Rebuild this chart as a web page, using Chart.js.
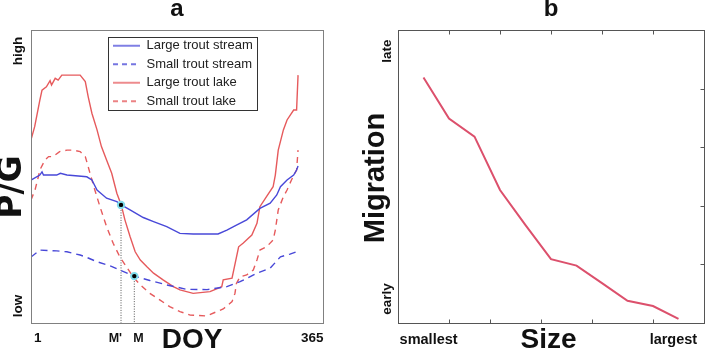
<!DOCTYPE html>
<html>
<head>
<meta charset="utf-8">
<title>P/G and migration</title>
<script src="https://cdn.jsdelivr.net/npm/chart.js@4.4.1/dist/chart.umd.min.js"></script>
<style>
  html, body { margin: 0; padding: 0; background: #fff; }
  #wrap { position: relative; width: 705px; height: 352px; }
  .panel { position: absolute; top: 0; }
  #pa { left: 0; }
  #pb { left: 353px; }
</style>
</head>
<body>
<div id="wrap">
  <div class="panel" id="pa"><canvas id="chartA" width="353" height="352"></canvas></div>
  <div class="panel" id="pb"><canvas id="chartB" width="352" height="352"></canvas></div>
</div>
<script>
// ---- panel a : P/G over the year (DOY) ----
const seriesNames = ['Large trout stream', 'Small trout stream', 'Large trout lake', 'Small trout lake'];

const doyLargeStream = [1, 13, 16, 18, 36, 41, 50, 77, 84, 91, 104, 118, 124, 136, 154, 168, 186, 204, 222, 256,
  268, 281, 295, 313, 327, 336, 341, 350, 359, 363, 365];
const pgLargeStream = [48.8, 50.5, 51.6, 50.5, 50.5, 51.1, 50.5, 49.9, 48.8, 45.4, 42.6, 41.4, 40.3, 38.6, 36, 34.6, 32.9, 30.6, 30.4, 30.4,
  31.7, 33.4, 35.2, 39.1, 40.9, 43.7, 46.5, 48.8, 50.5, 52.2, 53.6];

const doySmallStream = [1, 13, 36, 50, 68, 77, 91, 109, 122, 142, 163, 186, 213, 241, 268, 286, 309, 327, 341, 354, 363];
const pgSmallStream = [22.5, 24.9, 24.6, 24.3, 23.2, 22.4, 20.9, 19.5, 18.1, 16, 14.5, 13, 11.5, 11.4, 12.4, 14.1, 17, 18.7, 22.6, 23.5, 24.3];

const doyLargeLake = [1, 6, 13, 16, 22, 27, 29, 34, 38, 43, 68, 75, 79, 84, 91, 97, 104, 111, 118, 124,
  129, 136, 143, 150, 159, 168, 181, 195, 204, 222, 245, 261, 263, 275, 284, 290, 302, 309, 313, 322,
  331, 334, 338, 345, 350, 359, 363, 365];
const pgLargeLake = [62.5, 67, 76, 79.5, 80.6, 82.7, 81.2, 83.5, 82.9, 84.6, 84.6, 82.4, 77.2, 71.6, 65.9, 60.2, 55.6, 51.1, 44.3, 40.3,
  35.2, 29.5, 24.3, 21.5, 19.2, 17, 14.7, 12.4, 11.3, 10.1, 10.7, 12.4, 14.7, 15.3, 26, 27.2, 30, 34, 39.7, 43.1,
  46.5, 50.5, 59, 65.9, 69.3, 72.7, 72.7, 84.6];

const doySmallLake = [1, 6.5, 11, 13, 20, 25, 31, 40, 50, 59, 68, 75, 79, 81, 88, 95, 104, 113, 122, 131,
  140, 150, 163, 177, 190, 204, 218, 240, 263, 275, 279, 281, 286, 295, 304, 309, 313, 322, 331, 334,
  338, 345, 350, 356, 363, 365];
const pgSmallLake = [42, 45.4, 49.9, 52.2, 55.6, 56.8, 56.8, 58.5, 59, 59, 58.5, 56.8, 53.3, 51.5, 45.4, 39.7, 32.9, 27.2, 22.6, 19.2,
  15.8, 13, 10.1, 7.8, 5.6, 3.9, 2.7, 2.4, 4.8, 7.3, 10.1, 13.5, 15.8, 16.4, 18.1, 21.5, 24.9, 26, 28.3, 31.7,
  38.6, 43.1, 45.4, 48.8, 52.2, 59];

// migration points M' (large trout) and M (small trout)
const markerLabels = ["M'", "M"];
const markerDoy = [123.7, 141.8];
const markerPG = [40.3, 16.0];

const doyTicks = [1, 365];
const doyTickLabels = ['1', '365'];
const pgTicks = [92.8, 5.8];
const pgTickLabels = ['high', 'low'];

// ---- panel b : migration timing vs size ----
const sizeSteps = [0.5, 1, 1.5, 2, 2.5, 3, 3.5, 4, 4.5, 5, 5.5];
const migration = [4.19, 3.49, 3.18, 2.27, 1.67, 1.09, 0.98, 0.68, 0.38, 0.29, 0.07];

const sizeTicks = [0.6, 5.4];
const sizeTickLabels = ['smallest', 'largest'];
const migTicks = [4.64, 0.41];
const migTickLabels = ['late', 'early'];
const topTicks = [1, 2, 3, 4, 5];
const bottomTicks = [1, 1.8, 2.8, 3.8, 5];
const rightTicks = [1, 2, 3, 4];

Chart.defaults.font.family = '"Liberation Sans", Arial, sans-serif';
Chart.defaults.animation = false;

const BLUE = '#4848d8';
const RED = '#e65a5c';

function xy(xs, ys) {
	return xs.map((v, i) => ({ x: v, y: ys[i] }));
}

// small line sample used as the legend symbol (keeps the dash pattern)
function legendSample(color, dash) {
	const c = document.createElement('canvas');
	c.width = 27;
	c.height = 4;
	const g = c.getContext('2d');
	g.strokeStyle = color;
	g.lineWidth = 1.4;
	g.setLineDash(dash);
	g.beginPath();
	g.moveTo(0, 2);
	g.lineTo(27, 2);
	g.stroke();
	return c;
}

function rotText(ctx, txt, x, y) {
	ctx.save();
	ctx.translate(x, y);
	ctx.rotate(-Math.PI / 2);
	ctx.textAlign = 'center';
	ctx.textBaseline = 'middle';
	ctx.fillText(txt, 0, 0);
	ctx.restore();
}

// frame, legend box and labels for panel a
const panelA = {
	id: 'panelA',
	afterLayout(chart) {
		const a = chart.chartArea, lg = chart.legend;
		lg.left = a.left + 76.5;
		lg.top = a.top + 3.7;
		lg.right = lg.left + 150;
		lg.bottom = lg.top + 200;
	},
	afterDraw(chart) {
		const { ctx, chartArea: a, scales: { x, y } } = chart;
		ctx.save();
		ctx.strokeStyle = '#808080';
		ctx.lineWidth = 1;
		ctx.strokeRect(Math.round(a.left) + 0.5, Math.round(a.top) + 0.5, Math.round(a.width), Math.round(a.height));
		ctx.strokeStyle = '#333';
		ctx.strokeRect(Math.round(a.left) + 77.5, Math.round(a.top) + 7.5, 149, 73);

		ctx.fillStyle = '#111';
		ctx.font = 'bold 13.5px "Liberation Sans"';
		pgTicks.forEach((v, i) => rotText(ctx, pgTickLabels[i], a.left - 13, y.getPixelForValue(v)));
		ctx.textBaseline = 'middle';
		ctx.textAlign = 'left';
		doyTicks.forEach((v, i) => ctx.fillText(doyTickLabels[i], x.getPixelForValue(v) + 3, a.bottom + 15.5));

		ctx.font = 'bold 12.5px "Liberation Sans"';
		ctx.textAlign = 'right';
		ctx.fillText(markerLabels[0], x.getPixelForValue(markerDoy[0]) + 1, a.bottom + 15.5);
		ctx.textAlign = 'left';
		ctx.fillText(markerLabels[1], x.getPixelForValue(markerDoy[1]) - 1, a.bottom + 15.5);

		ctx.font = 'bold 33px "DejaVu Sans"';
		rotText(ctx, 'P/G', a.left - 19, a.top + 157);
		ctx.font = 'bold 28px "Liberation Sans"';
		ctx.textAlign = 'center';
		ctx.fillText('DOY', a.left + 161, a.bottom + 17);
		ctx.restore();
	}
};

// frame, inward ticks and labels for panel b
const panelB = {
	id: 'panelB',
	afterDraw(chart) {
		const { ctx, chartArea: a, scales: { x, y } } = chart;
		const L = Math.round(a.left) + 0.5, T = Math.round(a.top) + 0.5;
		const R = Math.round(a.right) + 0.5, B = Math.round(a.bottom) + 0.5;
		ctx.save();
		ctx.strokeStyle = '#555';
		ctx.lineWidth = 1;
		ctx.strokeRect(L, T, R - L, B - T);
		ctx.beginPath();
		topTicks.forEach(v => {
			const px = Math.round(x.getPixelForValue(v)) + 0.5;
			ctx.moveTo(px, T); ctx.lineTo(px, T + 4);
		});
		bottomTicks.forEach(v => {
			const px = Math.round(x.getPixelForValue(v)) + 0.5;
			ctx.moveTo(px, B); ctx.lineTo(px, B - 4);
		});
		rightTicks.forEach(v => {
			const py = Math.round(y.getPixelForValue(v)) + 0.5;
			ctx.moveTo(R, py); ctx.lineTo(R - 4, py);
		});
		ctx.stroke();

		ctx.fillStyle = '#111';
		ctx.font = 'bold 13.5px "Liberation Sans"';
		migTicks.forEach((v, i) => rotText(ctx, migTickLabels[i], a.left - 11, y.getPixelForValue(v)));
		ctx.font = 'bold 14.5px "Liberation Sans"';
		ctx.textAlign = 'center';
		ctx.textBaseline = 'middle';
		sizeTicks.forEach((v, i) => ctx.fillText(sizeTickLabels[i], x.getPixelForValue(v), a.bottom + 17));

		ctx.font = 'bold 29px "Liberation Sans"';
		rotText(ctx, 'Migration', a.left - 22, a.top + 148);
		ctx.font = 'bold 28px "Liberation Sans"';
		ctx.textAlign = 'center';
		ctx.fillText('Size', a.left + 150.5, a.bottom + 17);
		ctx.restore();
	}
};

const lineBase = { pointRadius: 0, borderWidth: 1.4, tension: 0, fill: false, order: 1 };

new Chart(document.getElementById('chartA').getContext('2d'), {
	type: 'line',
	data: {
		datasets: [
			{ ...lineBase, label: seriesNames[0], data: xy(doyLargeStream, pgLargeStream), borderColor: BLUE, backgroundColor: BLUE,
				pointStyle: legendSample(BLUE, []) },
			{ ...lineBase, label: seriesNames[1], data: xy(doySmallStream, pgSmallStream), borderColor: BLUE, backgroundColor: BLUE, borderDash: [7, 5],
				pointStyle: legendSample(BLUE, [5, 4]) },
			{ ...lineBase, label: seriesNames[2], data: xy(doyLargeLake, pgLargeLake), borderColor: RED, backgroundColor: RED,
				pointStyle: legendSample(RED, []) },
			{ ...lineBase, label: seriesNames[3], data: xy(doySmallLake, pgSmallLake), borderColor: RED, backgroundColor: RED, borderDash: [6, 5],
				pointStyle: legendSample(RED, [5, 4]) },
			{ ...lineBase, label: 'drop M1', data: xy([markerDoy[0], markerDoy[0]], [markerPG[0], 0]), borderColor: '#555', borderWidth: 1, borderDash: [1, 1.5] },
			{ ...lineBase, label: 'drop M2', data: xy([markerDoy[1], markerDoy[1]], [markerPG[1], 0]), borderColor: '#555', borderWidth: 1, borderDash: [1, 1.5] },
			{
				label: 'markers', data: xy(markerDoy, markerPG), showLine: false, order: 0,
				pointRadius: 3.2, pointBackgroundColor: '#000', pointBorderColor: '#80dcec', pointBorderWidth: 2
			}
		]
	},
	options: {
		responsive: false,
		layout: { padding: { left: 31, right: 30, top: 0, bottom: 29 } },
		scales: {
			x: { type: 'linear', min: 1, max: 399, display: false },
			y: { type: 'linear', min: 0, max: 100, display: false }
		},
		plugins: {
			title: {
				display: true, text: 'a', color: '#111',
				font: { size: 24, weight: 'bold', lineHeight: 0.8 },
				padding: { top: 0, bottom: 10.8 }
			},
			legend: {
				position: 'chartArea',
				align: 'start',
				labels: {
					filter: item => item.datasetIndex < 4,
					usePointStyle: true,
					pointStyleWidth: 27,
					padding: 5.5,
					color: '#222',
					font: { size: 13 }
				}
			},
			tooltip: { enabled: false }
		}
	},
	plugins: [panelA]
});

new Chart(document.getElementById('chartB').getContext('2d'), {
	type: 'line',
	data: {
		datasets: [
			{ label: 'Migration', data: xy(sizeSteps, migration), borderColor: '#dc506c', backgroundColor: '#dc506c', borderWidth: 2, pointRadius: 0, tension: 0 }
		]
	},
	options: {
		responsive: false,
		layout: { padding: { left: 45, right: 1, top: 0, bottom: 29 } },
		scales: {
			x: { type: 'linear', min: 0, max: 6, display: false },
			y: { type: 'linear', min: 0, max: 5, display: false }
		},
		plugins: {
			title: {
				display: true, text: 'b', color: '#111',
				font: { size: 24, weight: 'bold', lineHeight: 0.8 },
				padding: { top: 0, bottom: 10.8 }
			},
			legend: { display: false },
			tooltip: { enabled: false }
		}
	},
	plugins: [panelB]
});
</script>
</body>
</html>
